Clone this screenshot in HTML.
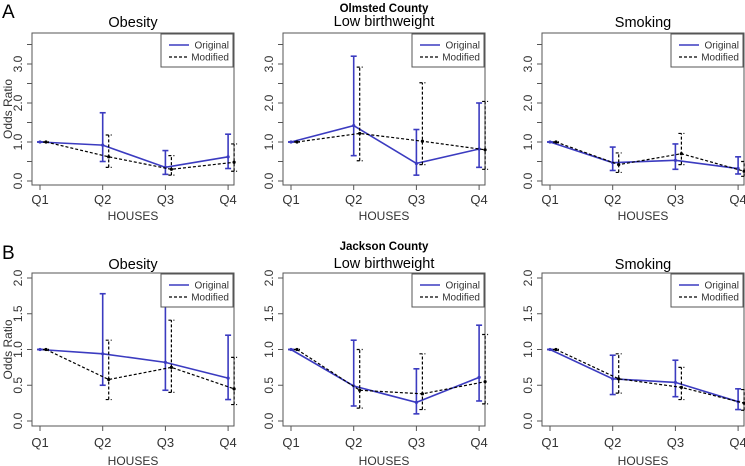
<!DOCTYPE html>
<html><head><meta charset="utf-8"><style>
body{margin:0;background:#fff;}
svg{display:block;font-family:"Liberation Sans",sans-serif;}
</style></head><body>
<svg id="c" width="745" height="466" viewBox="0 0 745 466"></svg>
<script>
const categories = ["Q1","Q2","Q3","Q4"];
const panelTitles = ["Obesity","Low birthweight","Smoking"];
const countyTitles = ["Olmsted County","Jackson County"];
// Row A (Olmsted)
const aObOrig=[1,0.92,0.35,0.62], aObOrigLo=[1,0.5,0.17,0.32], aObOrigHi=[1,1.75,0.78,1.2];
const aObMod=[1,0.62,0.3,0.48], aObModLo=[1,0.35,0.15,0.25], aObModHi=[1,1.18,0.65,0.95];
const aLbOrig=[1,1.42,0.45,0.82], aLbOrigLo=[1,0.65,0.15,0.35], aLbOrigHi=[1,3.2,1.32,2.0];
const aLbMod=[1,1.22,1.02,0.8], aLbModLo=[1,0.52,0.42,0.3], aLbModHi=[1,2.92,2.52,2.04];
const aSmOrig=[1,0.47,0.53,0.32], aSmOrigLo=[1,0.27,0.3,0.18], aSmOrigHi=[1,0.87,0.95,0.62];
const aSmMod=[1,0.42,0.7,0.25], aSmModLo=[1,0.22,0.42,0.12], aSmModHi=[1,0.72,1.22,0.5];
// Row B (Jackson)
const bObOrig=[1,0.94,0.82,0.6], bObOrigLo=[1,0.5,0.43,0.3], bObOrigHi=[1,1.78,1.6,1.2];
const bObMod=[1,0.58,0.75,0.45], bObModLo=[1,0.3,0.4,0.23], bObModHi=[1,1.13,1.41,0.89];
const bLbOrig=[1,0.49,0.26,0.61], bLbOrigLo=[1,0.21,0.1,0.28], bLbOrigHi=[1,1.13,0.73,1.34];
const bLbMod=[1,0.43,0.38,0.55], bLbModLo=[1,0.18,0.16,0.24], bLbModHi=[1,1.0,0.94,1.21];
const bSmOrig=[1,0.59,0.54,0.27], bSmOrigLo=[1,0.37,0.34,0.16], bSmOrigHi=[1,0.92,0.85,0.45];
const bSmMod=[1,0.59,0.47,0.25], bSmModLo=[1,0.39,0.3,0.15], bSmModHi=[1,0.94,0.75,0.44];
const topTicks=[0,0.5,1,1.5,2,2.5,3,3.5];
const topTickLabels=["0.0","","1.0","","2.0","","3.0",""];
const botTicks=[0,0.5,1,1.5,2];
const botTickLabels=["0.0","0.5","1.0","1.5","2.0"];

const svg=document.getElementById('c');
const NS='http://www.w3.org/2000/svg';
function mk(tag,attrs,parent,text){const e=document.createElementNS(NS,tag);for(const k in attrs)e.setAttribute(k,attrs[k]);if(text!==undefined)e.textContent=text;(parent||svg).appendChild(e);return e;}
const BLUE='#3b3bc0';
const rows=[
 {top:33,bottom:185,y0:181,ppu:39,ticks:topTicks,labels:topTickLabels,tickY:204,houseY:220,titleY:27,countyY:11,letter:"A",letterY:18,
  data:[[aObOrig,aObOrigLo,aObOrigHi,aObMod,aObModLo,aObModHi],[aLbOrig,aLbOrigLo,aLbOrigHi,aLbMod,aLbModLo,aLbModHi],[aSmOrig,aSmOrigLo,aSmOrigHi,aSmMod,aSmModLo,aSmModHi]]},
 {top:273,bottom:426,y0:421,ppu:71.5,ticks:botTicks,labels:botTickLabels,tickY:447,houseY:465,titleY:269,countyY:249,letter:"B",letterY:259,
  data:[[bObOrig,bObOrigLo,bObOrigHi,bObMod,bObModLo,bObModHi],[bLbOrig,bLbOrigLo,bLbOrigHi,bLbMod,bLbModLo,bLbModHi],[bSmOrig,bSmOrigLo,bSmOrigHi,bSmMod,bSmModLo,bSmModHi]]}
];
const lefts=[32,283,542];
rows.forEach((r,ri)=>{
  const L=mk('text',{x:2,y:r.letterY,'font-size':19,fill:'#000'},svg,r.letter);
  
  
  const ct=mk('text',{x:384,y:r.countyY+1,'font-size':11.5,'font-weight':'bold','text-anchor':'middle'},svg,countyTitles[ri]);
  
  
  lefts.forEach((left,pi)=>{
    const W=202;
    const g=mk('g',{});
    
    
    const xs=i=>left+8+i*62.7;
    const ys=v=>r.y0-v*r.ppu;
    const t=mk('text',{x:left+W/2,y:r.titleY-(pi===1?1:0),'font-size':14.5,'text-anchor':'middle'},g,panelTitles[pi]);
    
    
    const box=mk('rect',{x:left,y:r.top,width:W,height:r.bottom-r.top,fill:'none',stroke:'#555','stroke-width':1},g);
    
    
    r.ticks.forEach((tv,ti)=>{
      const y=ys(tv);
      const tk=mk('line',{x1:left-5,x2:left,y1:y,y2:y,stroke:'#555'},g);
      
      
      if(r.labels[ti]){
        const tl=mk('text',{x:left-10,y:y,'font-size':12,fill:'#333','text-anchor':'middle',transform:`rotate(-90 ${left-10} ${y})`},g,r.labels[ti]);
        
        
      }
    });
    categories.forEach((c,i)=>{
      const tk=mk('line',{x1:xs(i),x2:xs(i),y1:r.bottom,y2:r.bottom+5,stroke:'#555'},g);
      
      
      const tl=mk('text',{x:xs(i),y:r.tickY,'font-size':13,fill:'#333','text-anchor':'middle'},g,c);
      
      
    });
    const xl=mk('text',{x:left+W/2,y:r.houseY,'font-size':12,fill:'#333','text-anchor':'middle'},g,'HOUSES');
    
    
    if(pi===0){
      const yc=(r.top+r.bottom)/2;
      const yl=mk('text',{x:12,y:yc,'font-size':12,fill:'#333','text-anchor':'middle',transform:`rotate(-90 12 ${yc})`},g,'Odds Ratio');
      
      
    }
    const d=r.data[pi];
    [[d[0],d[1],d[2],0,BLUE,'',1.6,'original'],[d[3],d[4],d[5],6,'#000','3,2',1.2,'modified']].forEach(s=>{
      const [est,lo,hi,off,col,dash,sw,nm]=s;
      const pts=est.map((v,i)=>(xs(i)+off)+','+ys(v)).join(' ');
      const pl=mk('polyline',{points:pts,fill:'none',stroke:col,'stroke-width':sw,'stroke-dasharray':dash},g);
      
      
      est.forEach((v,i)=>{
        const x=xs(i)+off;
        const eg=mk('g',{stroke:col,'stroke-width':sw,'stroke-dasharray':dash},g);
        
        
        mk('line',{x1:x,x2:x,y1:ys(lo[i]),y2:ys(hi[i])},eg);
        mk('line',{x1:x-3,x2:x+3,y1:ys(lo[i]),y2:ys(lo[i])},eg);
        mk('line',{x1:x-3,x2:x+3,y1:ys(hi[i]),y2:ys(hi[i])},eg);
        const p=mk('circle',{cx:x,cy:ys(v),r:1.6,fill:col,stroke:'none'},g);
        
        
      });
    });
    const lg=mk('g',{},g);
    
    
    const lx=left+W-73, ly=r.top+1;
    mk('rect',{x:lx,y:ly,width:72,height:33,fill:'#fff',stroke:'#555'},lg);
    mk('line',{x1:lx+8,x2:lx+28,y1:ly+11,y2:ly+11,stroke:BLUE,'stroke-width':1.6},lg);
    mk('line',{x1:lx+8,x2:lx+28,y1:ly+23,y2:ly+23,stroke:'#000','stroke-width':1.2,'stroke-dasharray':'3,2'},lg);
    const e1=mk('text',{x:lx+68,y:ly+14.5,'font-size':10,fill:'#333','text-anchor':'end'},lg,'Original');
    
    
    const e2=mk('text',{x:lx+68,y:ly+26.5,'font-size':10,fill:'#333','text-anchor':'end'},lg,'Modified');
    
    
  });
});
</script>
</body></html>
